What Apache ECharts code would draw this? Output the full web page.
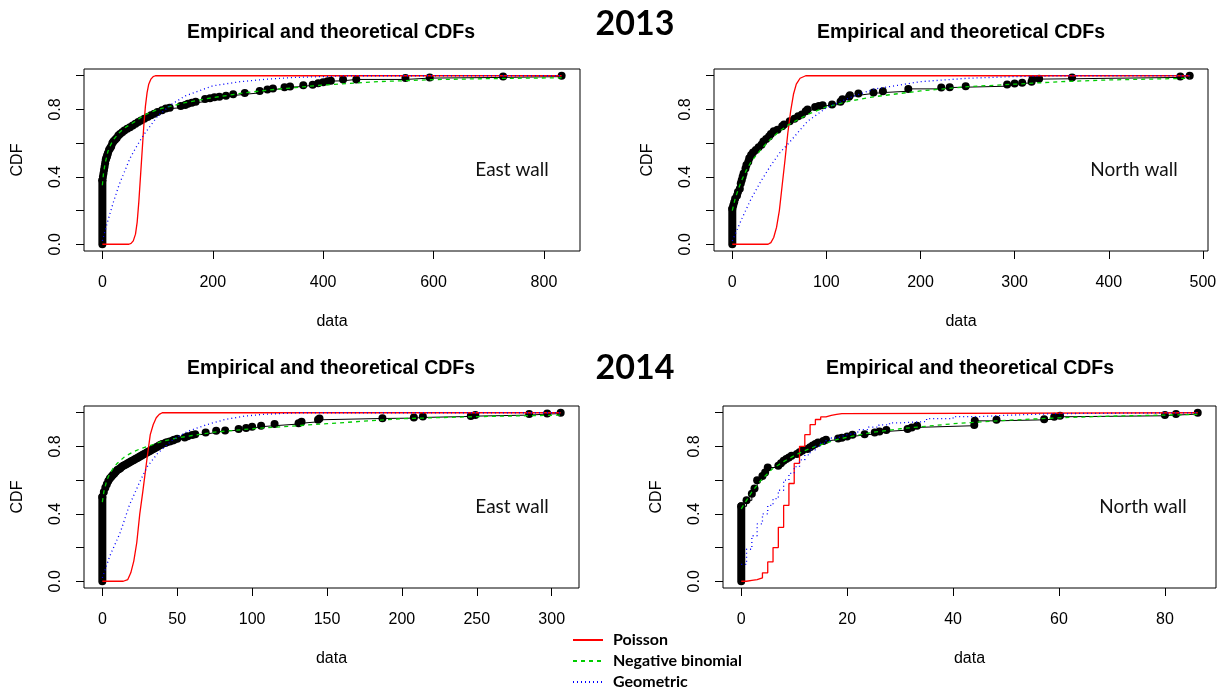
<!DOCTYPE html>
<html><head><meta charset="utf-8">
<script src="https://cdn.jsdelivr.net/npm/echarts@6/dist/echarts.min.js"></script>
<style>html,body{margin:0;padding:0;background:#fff}#c{width:1224px;height:690px}</style>
</head><body><div id="c"></div>
<script>
// ---------- tick labels ----------
const yTicks = [0, 0.2, 0.4, 0.6, 0.8, 1.0];
const yLabels = [0, 0.4, 0.8];
const xTicksEast13 = [0, 200, 400, 600, 800];
const xTicksNorth13 = [0, 100, 200, 300, 400, 500];
const xTicksEast14 = [0, 50, 100, 150, 200, 250, 300];
const xTicksNorth14 = [0, 20, 40, 60, 80];

// ---------- 2013 East wall ----------
const east13Zero = 0.38;
const east13Emp = [[0,0.38],[1,0.40],[2,0.42],[3,0.44],[4,0.46],[5,0.48],[6,0.50],[7,0.51],[8,0.52],[9,0.53],[10,0.54],[12,0.56],[14,0.57],[16,0.58],[18,0.60],[20,0.61],[23,0.62],[26,0.63],[29,0.645],[32,0.655],[36,0.665],[40,0.675],[45,0.685],[50,0.695],[55,0.705],[60,0.715],[65,0.725],[70,0.735],[76,0.745],[82,0.755],[88,0.765],[94,0.775],[100,0.785],[108,0.795],[115,0.805],[122,0.81],[142,0.82],[150,0.826],[155,0.834],[162,0.84],[169,0.846],[186,0.862],[195,0.866],[203,0.872],[212,0.876],[224,0.882],[237,0.89],[258,0.898],[285,0.91],[299,0.918],[309,0.924],[330,0.932],[340,0.936],[364,0.944],[381,0.946],[391,0.956],[400,0.962],[408,0.968],[414,0.97],[436,0.978],[460,0.978],[549,0.986],[593,0.99],[726,0.995],[832,1.0]];
const east13Pois = [[0,0],[48,0],[52,0.005],[56,0.02],[60,0.06],[63,0.13],[66,0.25],[69,0.4],[72,0.55],[75,0.7],[78,0.82],[81,0.9],[84,0.95],[88,0.98],[92,0.995],[96,1.0],[832,1.0]];
const east13NB = [[0,0.35],[2,0.42],[5,0.48],[10,0.55],[15,0.59],[20,0.62],[30,0.66],[40,0.69],[50,0.71],[60,0.73],[75,0.765],[100,0.8],[125,0.82],[150,0.84],[200,0.87],[250,0.895],[300,0.915],[350,0.93],[400,0.945],[500,0.965],[600,0.977],[700,0.983],[832,0.988]];
const east13Geom = [[0,0.02],[10,0.14],[20,0.25],[30,0.35],[40,0.43],[50,0.51],[60,0.57],[75,0.65],[100,0.76],[125,0.83],[150,0.88],[200,0.94],[250,0.965],[300,0.98],[350,0.99],[400,0.995],[450,1.0],[832,1.0]];

// ---------- 2013 North wall ----------
const north13Zero = 0.21;
const north13Emp = [[0,0.21],[1,0.23],[2,0.25],[3,0.27],[5,0.29],[6,0.31],[8,0.33],[9,0.36],[10,0.38],[11,0.40],[12,0.42],[14,0.45],[15,0.47],[17,0.49],[18,0.51],[20,0.53],[22,0.545],[25,0.56],[28,0.575],[31,0.59],[33,0.61],[36,0.625],[39,0.64],[41,0.655],[44,0.67],[48,0.68],[53,0.70],[55,0.71],[61,0.73],[66,0.745],[70,0.76],[74,0.77],[78,0.79],[80,0.80],[88,0.815],[92,0.82],[96,0.825],[106,0.83],[115,0.845],[117,0.86],[124,0.875],[125,0.884],[134,0.895],[150,0.9],[160,0.908],[187,0.922],[222,0.93],[231,0.932],[248,0.938],[292,0.948],[300,0.954],[308,0.958],[318,0.964],[319,0.98],[326,0.982],[361,0.99],[476,0.996],[486,1.0]];
const north13Pois = [[0,0],[38,0],[41,0.01],[44,0.04],[47,0.1],[50,0.2],[53,0.35],[56,0.5],[59,0.66],[62,0.79],[65,0.89],[68,0.95],[72,0.985],[78,1.0],[486,1.0]];
const north13NB = [[0,0.2],[3,0.27],[6,0.32],[10,0.38],[15,0.44],[20,0.49],[30,0.56],[40,0.62],[50,0.67],[60,0.71],[70,0.74],[80,0.77],[100,0.815],[125,0.85],[150,0.875],[200,0.91],[250,0.935],[300,0.95],[350,0.965],[400,0.975],[486,0.985]];
const north13Geom = [[0,0.02],[10,0.15],[20,0.27],[30,0.37],[40,0.46],[50,0.54],[60,0.6],[80,0.73],[100,0.81],[125,0.87],[150,0.92],[200,0.965],[250,0.985],[300,0.995],[350,1.0],[486,1.0]];

// ---------- 2014 East wall ----------
const east14Zero = 0.5;
const east14Emp = [[0,0.5],[1,0.53],[2,0.555],[3,0.575],[4,0.595],[5,0.61],[6,0.62],[7,0.63],[8,0.64],[9,0.65],[10,0.66],[11,0.665],[12,0.67],[13,0.68],[14,0.685],[15,0.69],[16,0.695],[17,0.70],[18,0.705],[19,0.71],[20,0.715],[21,0.72],[22,0.725],[23,0.73],[24,0.735],[25,0.74],[26,0.745],[27,0.75],[28,0.755],[29,0.76],[30,0.765],[31,0.77],[32,0.775],[33,0.78],[34,0.785],[35,0.79],[36,0.795],[37,0.80],[38,0.805],[39,0.81],[40,0.815],[42,0.82],[43,0.825],[45,0.83],[47,0.835],[48,0.84],[50,0.845],[55,0.853],[57,0.86],[60,0.868],[62,0.873],[69,0.883],[76,0.893],[82,0.895],[91,0.903],[96,0.909],[100,0.917],[106,0.923],[115,0.933],[131,0.938],[133,0.946],[144,0.958],[145,0.966],[187,0.968],[208,0.972],[214,0.978],[246,0.98],[249,0.986],[285,0.992],[297,0.995],[306,1.0]];
const east14Pois = [[0,0],[14,0],[17,0.01],[19,0.05],[21,0.12],[23,0.23],[25,0.4],[27,0.53],[29,0.67],[30,0.74],[32,0.87],[34,0.93],[36,0.97],[38,0.99],[40,1.0],[306,1.0]];
const east14NB = [[0,0.47],[1,0.53],[3,0.6],[5,0.64],[8,0.68],[10,0.7],[15,0.74],[20,0.765],[25,0.785],[30,0.8],[40,0.83],[50,0.85],[60,0.865],[75,0.885],[100,0.905],[125,0.92],[150,0.935],[200,0.965],[250,0.977],[306,0.986]];
const east14Geom = [[0,0.02],[5,0.15],[12,0.29],[18,0.45],[25,0.59],[30,0.68],[37,0.76],[47,0.84],[57,0.89],[70,0.93],[82,0.96],[95,0.98],[107,0.99],[130,1.0],[306,1.0]];

// ---------- 2014 North wall ----------
const north14Zero = 0.445;
const north14Emp = [[0,0.445],[1,0.48],[2,0.52],[2.5,0.55],[3,0.6],[4,0.625],[4.5,0.645],[5,0.675],[7,0.685],[7.5,0.70],[8,0.715],[8.5,0.725],[9,0.735],[9.5,0.745],[10.5,0.755],[11,0.765],[11.5,0.775],[12.5,0.785],[13,0.795],[13.5,0.805],[14,0.815],[14.5,0.823],[15.5,0.833],[16,0.84],[18.3,0.847],[19,0.852],[20,0.859],[21,0.869],[23.3,0.873],[25.2,0.883],[26.1,0.889],[27.4,0.897],[31.4,0.903],[32.2,0.913],[33.2,0.923],[44,0.927],[44.1,0.952],[48.2,0.958],[57.2,0.962],[59.1,0.976],[60.2,0.982],[80,0.986],[82.1,0.992],[86.2,1.0]];
const north14Pois = [[0,0],[1,0.005],[2,0.01],[3,0.02],[4,0.05],[5,0.115],[6,0.2],[7,0.32],[8,0.45],[9,0.58],[10,0.7],[11,0.8],[12,0.87],[13,0.93],[14,0.96],[15,0.975],[16,0.985],[17,0.99],[18,0.995],[19,1.0],[86.2,1.0]];
const north14NB = [[0,0.43],[1,0.48],[2,0.53],[3,0.57],[4,0.61],[5,0.64],[6,0.67],[7,0.69],[8,0.71],[10,0.745],[12,0.775],[14,0.8],[16,0.82],[18,0.84],[20,0.855],[25,0.885],[30,0.905],[35,0.92],[40,0.935],[50,0.955],[60,0.97],[70,0.98],[86.2,0.99]];
const north14Geom = [[0,0.1],[1,0.19],[2,0.27],[3,0.34],[4,0.4],[5,0.45],[6,0.49],[7,0.54],[8,0.6],[9,0.64],[10,0.68],[11,0.72],[12,0.75],[13,0.78],[14,0.8],[15,0.82],[16,0.835],[17,0.85],[18,0.86],[19,0.87],[20,0.88],[22,0.9],[24,0.915],[26,0.928],[28,0.94],[30,0.948],[35,0.965],[40,0.977],[45,0.985],[50,0.99],[55,0.995],[60,1.0],[86.2,1.0]];

// ---------- text ----------
const panelTitle = 'Empirical and theoretical CDFs';
const yearLabels = ['2013', '2014'];
const wallNames = ['East wall', 'North wall', 'East wall', 'North wall'];
const seriesNames = ['Poisson', 'Negative binomial', 'Geometric'];

// ---------- layout ----------
const boxes = [
  {left: 84, top: 69, width: 496, height: 182},
  {left: 714, top: 69, width: 494, height: 182},
  {left: 84, top: 406, width: 495, height: 182},
  {left: 723, top: 406, width: 493, height: 182}
];
const wallPos = [[512, 160], [1134, 160], [512, 497], [1143, 497]];
const titlePos = [[331, 23], [961, 23], [331, 359], [970, 359]];

const panels = [
  {emp: east13Emp, zero: east13Zero, pois: east13Pois, nb: east13NB, geom: east13Geom, ticks: xTicksEast13, step: false},
  {emp: north13Emp, zero: north13Zero, pois: north13Pois, nb: north13NB, geom: north13Geom, ticks: xTicksNorth13, step: false},
  {emp: east14Emp, zero: east14Zero, pois: east14Pois, nb: east14NB, geom: east14Geom, ticks: xTicksEast14, step: false},
  {emp: north14Emp, zero: north14Zero, pois: north14Pois, nb: north14NB, geom: north14Geom, ticks: xTicksNorth14, step: true}
];

const FONT = 'Liberation Sans';
const grids = [], xAxes = [], yAxes = [], series = [], titles = [];

panels.forEach((p, i) => {
  const b = boxes[i];
  grids.push({left: b.left, top: b.top, width: b.width, height: b.height, show: true,
    borderColor: '#000', borderWidth: 1, backgroundColor: 'transparent', containLabel: false});
  const xmax = Math.max(...p.emp.map(d => d[0]));
  const xmin = 0;
  const r = xmax - xmin;
  xAxes.push({type: 'value', gridIndex: i, min: xmin - 0.04 * r, max: xmax + 0.04 * r,
    axisLine: {show: false, onZero: false}, splitLine: {show: false},
    axisTick: {show: true, inside: false, length: 8, customValues: p.ticks, lineStyle: {color: '#000', width: 1}},
    axisLabel: {customValues: p.ticks, margin: 24, fontSize: 16, color: '#000', fontFamily: FONT},
    name: 'data', nameLocation: 'middle', nameGap: 63,
    nameTextStyle: {fontSize: 16, color: '#000', fontFamily: FONT}
  });
  yAxes.push({type: 'value', gridIndex: i, min: -0.04, max: 1.04,
    axisLine: {show: false, onZero: false}, splitLine: {show: false},
    axisTick: {show: true, inside: false, length: 8, customValues: yTicks, lineStyle: {color: '#000', width: 1}},
    axisLabel: {customValues: yLabels, rotate: 90, margin: 20, fontSize: 16, color: '#000', fontFamily: FONT,
      formatter: v => Number(v).toFixed(1)},
    name: 'CDF', nameLocation: 'middle', nameGap: 58,
    nameTextStyle: {fontSize: 16, color: '#000', fontFamily: FONT}
  });
  // empirical: stacked zero observations
  series.push({type: 'line', xAxisIndex: i, yAxisIndex: i, data: [[0, 0], [0, p.zero]],
    symbol: 'none', silent: true, lineStyle: {color: '#000', width: 8, cap: 'round'}, z: 2});
  // empirical step curve with points
  series.push({type: 'line', name: 'Empirical', xAxisIndex: i, yAxisIndex: i, data: p.emp, step: 'end',
    symbol: 'circle', symbolSize: 8, showSymbol: true, silent: true,
    itemStyle: {color: '#000'}, lineStyle: {color: '#000', width: 1}, z: 2});
  series.push({type: 'line', name: seriesNames[0], xAxisIndex: i, yAxisIndex: i, data: p.pois,
    step: p.step ? 'end' : false, symbol: 'none', silent: true,
    itemStyle: {color: '#ff0000'}, lineStyle: {color: '#ff0000', width: 1.3, type: 'solid'}, z: 3});
  series.push({type: 'line', name: seriesNames[1], xAxisIndex: i, yAxisIndex: i, data: p.nb,
    symbol: 'none', silent: true,
    itemStyle: {color: '#00cd00'}, lineStyle: {color: '#00cd00', width: 1.3, type: [4, 4]}, z: 3});
  series.push({type: 'line', name: seriesNames[2], xAxisIndex: i, yAxisIndex: i, data: p.geom,
    step: p.step ? 'end' : false, symbol: 'none', silent: true,
    itemStyle: {color: '#0000ff'}, lineStyle: {color: '#0000ff', width: 1.3, type: [1, 3]}, z: 3});

  titles.push({text: panelTitle, left: titlePos[i][0], top: titlePos[i][1], textAlign: 'center', padding: 0,
    textStyle: {fontSize: 19.5, fontWeight: 'bold', color: '#000', fontFamily: FONT}});
  titles.push({text: wallNames[i], left: wallPos[i][0], top: wallPos[i][1], textAlign: 'center', padding: 0,
    textStyle: {fontSize: 19, fontWeight: 'normal', color: '#111', fontFamily: 'Lato'}});
});
titles.push({text: yearLabels[0], left: 635, top: 7, textAlign: 'center', padding: 0,
  textStyle: {fontSize: 34, fontWeight: 'bold', color: '#000', fontFamily: 'Lato'}});
titles.push({text: yearLabels[1], left: 635, top: 351, textAlign: 'center', padding: 0,
  textStyle: {fontSize: 34, fontWeight: 'bold', color: '#000', fontFamily: 'Lato'}});

const chart = echarts.init(document.getElementById('c'), null, {renderer: 'canvas'});
chart.setOption({
  backgroundColor: '#fff',
  animation: false,
  title: titles,
  grid: grids,
  xAxis: xAxes,
  yAxis: yAxes,
  legend: {data: seriesNames, orient: 'vertical', left: 572, top: 632, padding: 0,
    itemWidth: 30, itemHeight: 14, itemGap: 5,
    itemStyle: {opacity: 0},
    textStyle: {fontSize: 16, fontWeight: 'bold', color: '#000', fontFamily: 'Lato', lineHeight: 16, padding: [0, 0, 0, 5]},
    selectedMode: false},
  series: series
});
</script>
</body></html>
